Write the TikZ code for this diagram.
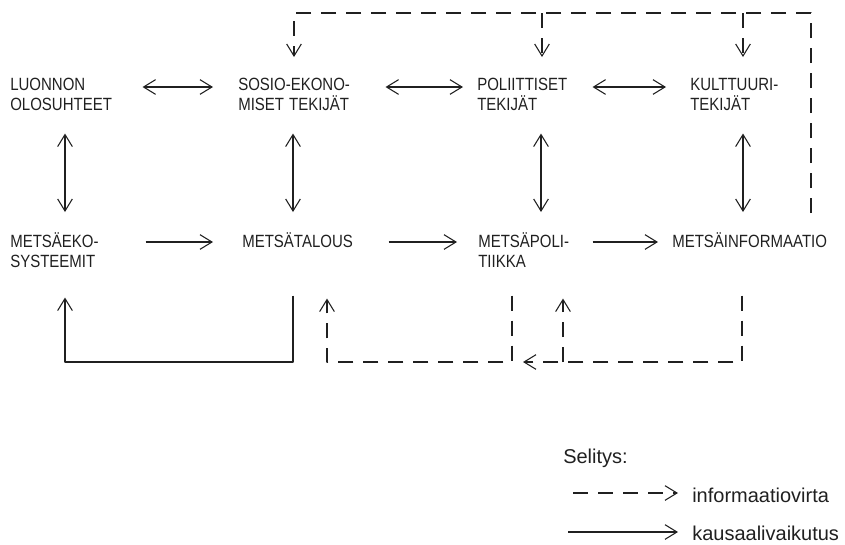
\documentclass[tikz,border=0pt]{standalone}
\usepackage{fontspec}
\setmainfont{Liberation Sans}
\usepackage{graphicx}
\usetikzlibrary{arrows.meta,calc}
\definecolor{ink}{HTML}{202020}
\newcommand{\tx}[1]{\raisebox{0pt}[9.75pt][0pt]{\scalebox{1}[1.18]{#1}}}
\setlength{\parindent}{0pt}
\begin{document}
\begin{tikzpicture}[x=0.75pt,y=-0.75pt,
  >={Straight Barb[length=9pt,width=11pt]},
  lbl/.style={anchor=north west,inner sep=0pt,align=left,text=ink,
    font=\fontsize{11.25pt}{15pt}\selectfont},
  leg/.style={anchor=base west,inner sep=0pt,text=ink,
    font=\fontsize{15pt}{18pt}\selectfont},
  caus/.style={draw=ink,line width=0.8pt,line join=round},
  inf/.style={draw=ink,line width=0.8pt,line join=round,dash pattern=on 11.25pt off 7.5pt}]
\useasboundingbox (0,0) rectangle (845,544);
% nodes
\node[lbl,text width=86.25pt] (luonnon) at (10,77) {\tx{LUONNON}\\\tx{OLOSUHTEET}};
\node[lbl,text width=93.75pt] (sosio) at (238,77) {\tx{SOSIO-EKONO-}\\\tx{MISET TEKIJÄT}};
\node[lbl,text width=75pt] (poli) at (477,77) {\tx{POLIITTISET}\\\tx{TEKIJÄT}};
\node[lbl,text width=75pt] (kult) at (690,77) {\tx{KULTTUURI-}\\\tx{TEKIJÄT}};
\node[lbl,text width=75pt] (eko) at (10,234) {\tx{METSÄEKO-}\\\tx{SYSTEEMIT}};
\node[lbl,text width=93.75pt] (tal) at (242,234) {\tx{METSÄTALOUS}};
\node[lbl,text width=75pt] (mpol) at (478,234) {\tx{METSÄPOLI-}\\\tx{TIIKKA}};
\node[lbl,text width=120pt] (info) at (672,234) {\tx{METSÄINFORMAATIO}};
% row 1 double arrows
\draw[caus,<->,shorten <=12.75pt,shorten >=18.75pt] ([yshift=-7.5pt]luonnon.north east) -- ([yshift=-7.5pt]sosio.north west);
\draw[caus,<->,shorten <=16.5pt,shorten >=10.5pt] ([yshift=-7.5pt]sosio.north east) -- ([yshift=-7.5pt]poli.north west);
\draw[caus,<->,shorten <=11.25pt,shorten >=18pt] ([yshift=-7.5pt]poli.north east) -- ([yshift=-7.5pt]kult.north west);
% row 2 arrows
\draw[caus,->,shorten <=26.25pt,shorten >=21.75pt] ([yshift=-6pt]eko.north east) -- ([yshift=-6pt]tal.north west);
\draw[caus,->,shorten <=15.75pt,shorten >=15.75pt] ([yshift=-6pt]tal.north east) -- ([yshift=-6pt]mpol.north west);
\draw[caus,->,shorten <=10.5pt,shorten >=10.5pt] ([yshift=-6pt]mpol.north east) -- ([yshift=-6pt]info.north west);
% vertical double arrows
\draw[caus,<->,shorten <=17.25pt,shorten >=16.5pt] ([xshift=41.25pt]luonnon.south west) -- ([xshift=41.25pt]eko.north west);
\draw[caus,<->,shorten <=17.25pt,shorten >=16.5pt] ([xshift=41.25pt]sosio.south west) -- ([xshift=38.25pt]tal.north west);
\draw[caus,<->,shorten <=17.25pt,shorten >=16.5pt] ([xshift=48pt]poli.south west) -- ([xshift=47.25pt]mpol.north west);
\draw[caus,<->,shorten <=17.25pt,shorten >=16.5pt] ([xshift=39.75pt]kult.south west) -- ([xshift=53.25pt]info.north west);
% top information loop
\coordinate (topline) at (0,13);
\coordinate (iT) at ([xshift=104.25pt]info.north west);
\coordinate (sT) at ([xshift=42pt]sosio.north west);
\coordinate (pT) at ([xshift=48.75pt]poli.north west);
\coordinate (kT) at ([xshift=39.75pt]kult.north west);
\draw[inf,->,shorten <=15.75pt,shorten >=15pt] (iT) -- (iT |- topline) -| (sT);
\draw[inf,->,shorten >=15pt] (pT |- topline) -- (pT);
\draw[inf,->,shorten >=15pt] (kT |- topline) -- (kT);
% bottom loops
\coordinate (botline) at (0,362);
\coordinate (tB1) at ([xshift=38.25pt]tal.south west);
\coordinate (eB) at ([xshift=41.25pt]eko.south west);
\draw[caus,->,shorten <=36pt,shorten >=22.5pt] (tB1) -- (tB1 |- botline) -| (eB);
\coordinate (mB1) at ([xshift=25.5pt]mpol.south west);
\coordinate (tB2) at ([xshift=63.75pt]tal.south west);
\draw[inf,->,shorten <=21pt,shorten >=38.25pt] (mB1) -- (mB1 |- botline) -| (tB2);
\coordinate (iB) at ([xshift=52.5pt]info.south west);
\coordinate (lend) at (523,362);
\draw[inf,->,shorten <=36pt] (iB) -- (iB |- botline) -- (lend);
\coordinate (mB2) at ([xshift=63.75pt]mpol.south west);
\draw[inf,->,shorten >=23.25pt] (mB2 |- botline) -- (mB2);
% legend
\node[leg] (sel) at (563,463) {Selitys:};
\node[leg] (linf) at (692,502) {informaatiovirta};
\node[leg] (lcau) at (692,540) {kausaalivaikutus};
\coordinate (l1) at (573,493);
\coordinate (l2) at (568,532);
\draw[inf,->,shorten >=10.5pt] (l1) -- (l1 -| linf.west);
\draw[caus,->,shorten >=10.5pt] (l2) -- (l2 -| lcau.west);
\end{tikzpicture}
\end{document}
